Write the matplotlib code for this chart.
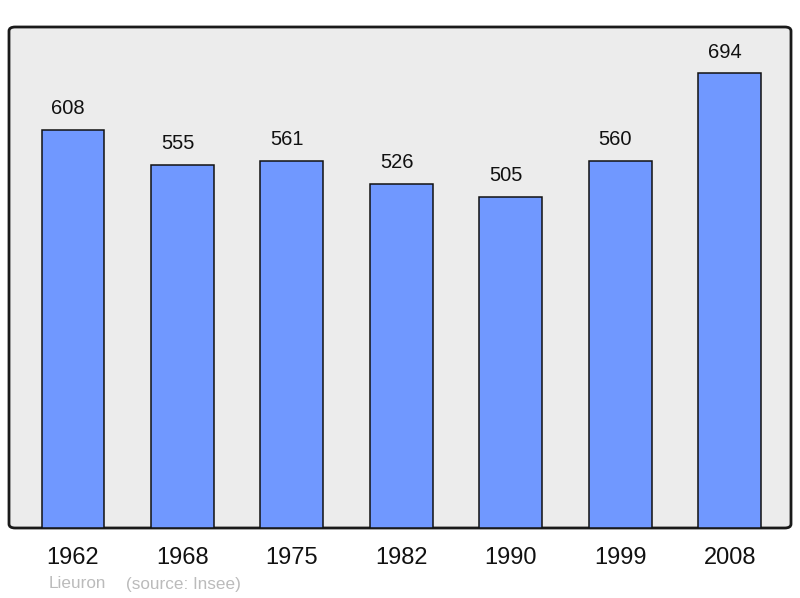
import matplotlib.pyplot as plt
from matplotlib.patches import FancyBboxPatch

years = ['1962', '1968', '1975', '1982', '1990', '1999', '2008']
population = [608, 555, 561, 526, 505, 560, 694]
commune = 'Lieuron'
source = '(source: Insee)'

plt.rcParams['font.family'] = ['Liberation Sans', 'DejaVu Sans']

fig = plt.figure(figsize=(8, 5.98), dpi=100)
ax = fig.add_axes([9 / 800, 1 - 528 / 598, 782 / 800, 501 / 598])

# frame with rounded corners
ax.set_facecolor('none')
for s in ax.spines.values():
    s.set_visible(False)
frame = FancyBboxPatch((0, 0), 1, 1, boxstyle='round,pad=0,rounding_size=0.008',
                       transform=ax.transAxes, facecolor='#ececec',
                       edgecolor='#1a1a1a', linewidth=2, zorder=0, clip_on=False)
ax.add_patch(frame)

x = range(len(years))
bars = ax.bar(x, population, width=0.575, color='#7098ff',
              edgecolor='#111111', linewidth=1.1, zorder=2)
for xi, v in zip(x, population):
    ax.annotate(str(v), (xi, v), xytext=(-3.5, 8.5), textcoords='offset points',
                ha='center', va='bottom', fontsize=14.5, color='#111111')

ax.set_xlim(-0.585, 6.56)
ax.set_ylim(0, 765)
ax.set_yticks([])
ax.set_xticks(list(x))
ax.set_xticklabels(years, fontsize=17, color='#111111')
ax.tick_params(axis='x', length=0, pad=14)

fig.text(49 / 800, 1 - 584 / 598, commune, fontsize=12.3, color='#bbbbbb',
         va='center', ha='left')
fig.text(126 / 800, 1 - 584 / 598, source, fontsize=12.3, color='#bbbbbb',
         va='center', ha='left')

fig.savefig('out.png', dpi=100)
